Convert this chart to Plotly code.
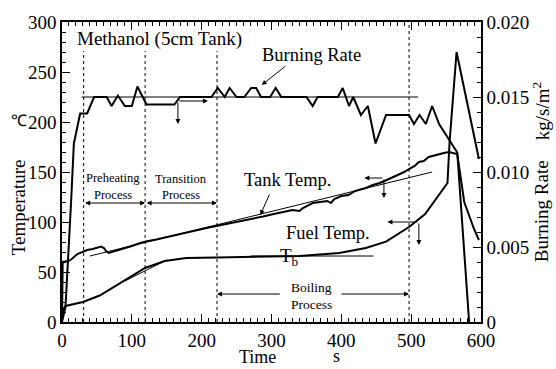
import plotly.graph_objects as go

# ---------------- data ----------------
tank_t = [0, 1, 9, 14, 22, 30, 36, 44, 50, 56, 60, 63, 67, 72, 80, 90, 100, 111, 120, 135,
          150, 165, 180, 197, 210, 221, 240, 260, 275, 288, 300, 315, 330, 340, 345, 359,
          370, 380, 385, 390, 400, 410, 420, 430, 435, 445, 455, 465, 475, 483, 490, 497,
          505, 511, 518, 525, 530, 540, 547, 554, 560, 566, 576, 590, 597]
tank_T = [2, 60, 61, 63, 68, 70, 72, 73, 74, 75.5, 74, 71, 69, 70, 71.5, 74, 76, 78.7, 80.5, 82.5,
          85, 87, 89.5, 92.5, 94.5, 96, 98.5, 101.5, 103.5, 105.5, 107.5, 110, 112, 111, 114, 119,
          120, 121, 119, 123, 126, 127, 131, 133, 134, 137, 139, 142, 145, 148, 150, 153,
          156, 160, 161, 165, 166, 168, 169, 170, 169, 168, 120, 93, 82]

fuel_t = [0, 2, 5, 30, 54, 100, 119, 147, 178, 221, 288, 340, 397, 435, 464, 483, 497,
          520, 545, 552, 555, 565, 597]
fuel_T = [2, 13, 16, 20, 26.5, 46, 54, 61, 64, 64.5, 65.7, 66, 69, 74, 80.4, 88.5, 95,
          108, 132, 139, 180, 270, 163]

br_t = [0, 5, 13, 17, 26, 36, 46, 64, 71, 80, 90, 100, 108, 121, 161, 169, 214, 223, 233,
        240, 250, 261, 271, 278, 285, 298, 306, 314, 350, 359, 366, 395, 402, 411, 417,
        428, 438, 449, 464, 497, 504, 512, 521, 530, 540, 557, 566, 583]
br_v = [0, 0.001, 0.008, 0.0119, 0.0139, 0.0139, 0.0150, 0.0150, 0.0144, 0.0151, 0.0144,
        0.0144, 0.0157, 0.0145, 0.0145, 0.0150, 0.0150, 0.0156, 0.0150, 0.0156, 0.0150,
        0.0150, 0.0156, 0.0156, 0.0150, 0.0150, 0.0156, 0.0150, 0.0150, 0.0144, 0.0150,
        0.0150, 0.0156, 0.0144, 0.0150, 0.0138, 0.0144, 0.0119, 0.0138, 0.0138, 0.0132,
        0.0138, 0.0132, 0.0144, 0.0132, 0.0120, 0.0113, 0]

tank_ref_t = [40, 530]
tank_ref_T = [66, 150]
fuel_ref_t = [90, 150]
fuel_ref_T = [41, 62]
tb_t = [270, 446]
tb_T = [66, 66]
br_ref_t = [28, 510]
br_ref_v = [0.015, 0.015]

phase_t = [31, 119, 222, 497]
phase_top = [271, 271, 271, 300]

x_ticks = [0, 100, 200, 300, 400, 500, 600]
y_ticks = [0, 50, 100, 150, 200, 250, 300]
y2_ticks = [0, 0.005, 0.010, 0.015, 0.020]
y2_labels = ["0", "0.005", "0.010", "0.015", "0.020"]

FONT = "Liberation Serif, Times New Roman, serif"
BLACK = "black"

fig = go.Figure()
fig.add_trace(go.Scatter(x=tank_t, y=tank_T, mode="lines", line=dict(color=BLACK, width=2)))
fig.add_trace(go.Scatter(x=fuel_t, y=fuel_T, mode="lines", line=dict(color=BLACK, width=2)))
fig.add_trace(go.Scatter(x=br_t, y=br_v, mode="lines", yaxis="y2", line=dict(color=BLACK, width=2)))
fig.add_trace(go.Scatter(x=tank_ref_t, y=tank_ref_T, mode="lines", line=dict(color=BLACK, width=1)))
fig.add_trace(go.Scatter(x=fuel_ref_t, y=fuel_ref_T, mode="lines", line=dict(color=BLACK, width=1)))
fig.add_trace(go.Scatter(x=tb_t, y=tb_T, mode="lines", line=dict(color=BLACK, width=1)))
fig.add_trace(go.Scatter(x=br_ref_t, y=br_ref_v, mode="lines", yaxis="y2", line=dict(color=BLACK, width=1)))

shapes = []
for t, top in zip(phase_t, phase_top):
    shapes.append(dict(type="line", xref="x", yref="y", x0=t, x1=t, y0=0, y1=top,
                       line=dict(color=BLACK, width=1, dash="3px,3px")))

ann = []
def text(x, y, s, size, **kw):
    d = dict(x=x, y=y, xref="x", yref="y", text=s, showarrow=False,
             xanchor="center", yanchor="middle",
             font=dict(family=FONT, size=size, color=BLACK))
    d.update(kw)
    ann.append(d)

def arrow(x0, y0, x1, y1, head=2, side="end"):
    ann.append(dict(x=x1, y=y1, ax=x0, ay=y0, xref="x", yref="y", axref="x", ayref="y",
                    text="", showarrow=True, arrowhead=head, arrowsize=1, arrowwidth=1,
                    arrowcolor=BLACK, arrowside=side))

text(140, 283, "Methanol (5cm Tank)", 19)
text(357, 267, "Burning Rate", 18.5)
arrow(322, 257, 286, 237)
text(324, 142, "Tank Temp.", 18.5)
arrow(298, 129, 284, 107)
text(381, 89, "Fuel Temp.", 18.5)
text(326, 65, "T<sub>b</sub>", 19)
text(73, 144, "Preheating", 12.5)
text(73, 127.5, "Process", 12.5)
text(171, 143, "Transition", 12.5)
text(171, 127.5, "Process", 12.5)
text(357, 34.5, "Boiling", 13.5)
text(357, 17.5, "Process", 13.5)
arrow(31, 119, 119, 119, side="end+start")
arrow(119, 119, 222, 119, side="end+start")
arrow(314, 28, 222, 28)
arrow(398, 28, 497, 28)
# axis-pointer arrows
arrow(166, 221, 209, 221)
arrow(166, 221, 166, 198)
arrow(461, 144, 433, 144)
arrow(461, 144, 461, 124)
arrow(511, 100, 466, 100)
arrow(511, 100, 511, 77)

# axis titles
def ptext(px, py, s, size, angle=0):
    ann.append(dict(x=(px - 62) / 419, y=(322 - py) / 306, xref="paper", yref="paper",
                    xanchor="center", yanchor="middle",
                    text=s, showarrow=False, textangle=angle,
                    font=dict(family=FONT, size=size, color=BLACK)))

ptext(18, 205, "Temperature", 19, -90)
ptext(19, 116, "℃", 16)
ptext(541, 209, "Burning Rate", 19, -90)
ptext(541, 107, "kg/s/m<sup>2</sup>", 19, -90)
ptext(257, 358, "Time", 18)
ptext(336, 357, "s", 18)

axis_common = dict(showline=True, linecolor=BLACK, linewidth=1.5, ticks="inside",
                   tickcolor=BLACK, showgrid=False, zeroline=False,
                   tickfont=dict(family=FONT, size=19, color=BLACK))

fig.update_layout(
    width=556, height=369,
    margin=dict(l=62, r=75, t=16, b=47),
    plot_bgcolor="white", paper_bgcolor="white",
    font=dict(family=FONT, size=18, color=BLACK),
    showlegend=False,
    shapes=shapes, annotations=ann,
    xaxis=dict(range=[0, 600], tickvals=x_ticks, ticklen=8, mirror="ticks",
               minor=dict(dtick=10, tick0=0, ticklen=4, ticks="inside", tickcolor=BLACK),
               **axis_common),
    yaxis=dict(range=[0, 300], tickvals=y_ticks, ticklen=8,
               minor=dict(dtick=10, tick0=0, ticklen=4, ticks="inside", tickcolor=BLACK),
               **axis_common),
    yaxis2=dict(range=[0, 0.02], overlaying="y", side="right", tickmode="array",
                tickvals=y2_ticks, ticktext=y2_labels, ticklen=8,
                minor=dict(tickmode="linear", dtick=0.001, tick0=0, ticklen=4,
                           ticks="inside", tickcolor=BLACK),
                **axis_common),
)

fig.write_html("out.html")
